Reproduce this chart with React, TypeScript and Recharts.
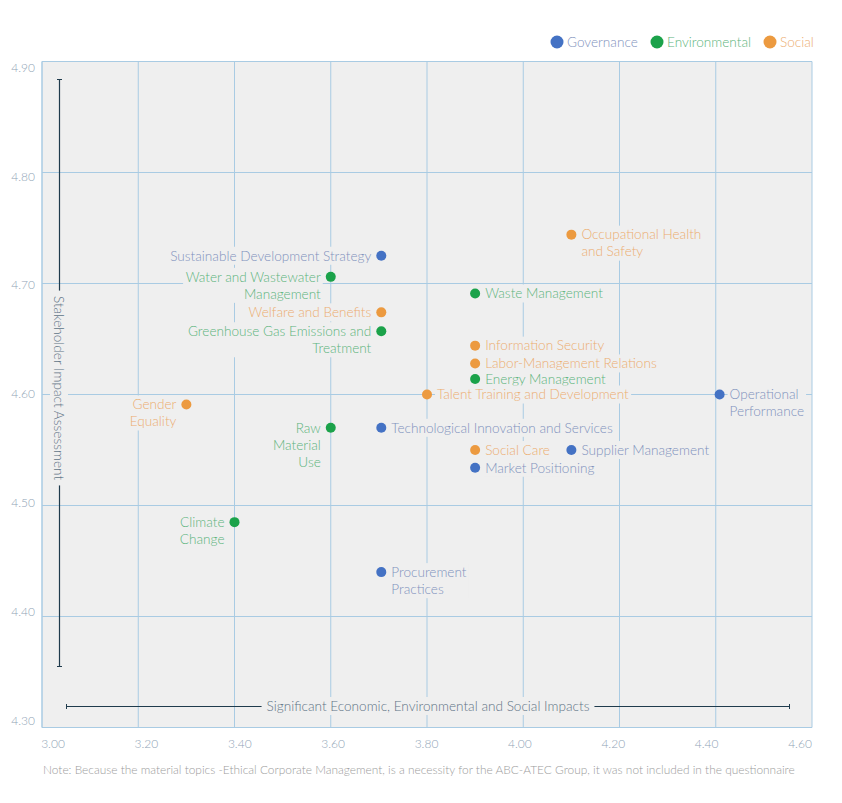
import React from "react";
import { ScatterChart, Scatter, XAxis, YAxis, CartesianGrid } from "recharts";

// Material topics
const governance = [
  { name: "Sustainable Development Strategy", x: 3.705, y: 4.725 },
  { name: "Technological Innovation and Services", x: 3.705, y: 4.57 },
  { name: "Operational Performance", x: 4.408, y: 4.6 },
  { name: "Supplier Management", x: 4.1, y: 4.55 },
  { name: "Market Positioning", x: 3.9, y: 4.534 },
  { name: "Procurement Practices", x: 3.705, y: 4.44 },
];

const environmental = [
  { name: "Water and Wastewater Management", x: 3.6, y: 4.706 },
  { name: "Greenhouse Gas Emissions and Treatment", x: 3.705, y: 4.657 },
  { name: "Waste Management", x: 3.9, y: 4.691 },
  { name: "Energy Management", x: 3.9, y: 4.614 },
  { name: "Raw Material Use", x: 3.6, y: 4.57 },
  { name: "Climate Change", x: 3.4, y: 4.485 },
];

const social = [
  { name: "Occupational Health and Safety", x: 4.1, y: 4.744 },
  { name: "Welfare and Benefits", x: 3.705, y: 4.674 },
  { name: "Information Security", x: 3.9, y: 4.644 },
  { name: "Labor-Management Relations", x: 3.9, y: 4.628 },
  { name: "Talent Training and Development", x: 3.8, y: 4.6 },
  { name: "Gender Equality", x: 3.3, y: 4.591 },
  { name: "Social Care", x: 3.9, y: 4.55 },
];

const xTicks = [3.0, 3.2, 3.4, 3.6, 3.8, 4.0, 4.2, 4.4, 4.6];
const yTicks = [4.3, 4.4, 4.5, 4.6, 4.7, 4.8, 4.9];

const xTitle = "Significant Economic, Environmental and Social Impacts";
const yTitle = "Stakeholder Impact Assessment";
const note =
  "Note: Because the material topics -Ethical Corporate Management, is a necessity for the ABC-ATEC Group, it was not included in the questionnaire";

// where each label sits and how it wraps
const labelLayout: Record<string, { side: "left" | "right"; lines: string[] }> = {
  "Sustainable Development Strategy": { side: "left", lines: ["Sustainable Development Strategy"] },
  "Water and Wastewater Management": { side: "left", lines: ["Water and Wastewater", "Management"] },
  "Welfare and Benefits": { side: "left", lines: ["Welfare and Benefits"] },
  "Greenhouse Gas Emissions and Treatment": { side: "left", lines: ["Greenhouse Gas Emissions and", "Treatment"] },
  "Gender Equality": { side: "left", lines: ["Gender", "Equality"] },
  "Raw Material Use": { side: "left", lines: ["Raw", "Material", "Use"] },
  "Climate Change": { side: "left", lines: ["Climate", "Change"] },
  "Occupational Health and Safety": { side: "right", lines: ["Occupational Health", "and Safety"] },
  "Operational Performance": { side: "right", lines: ["Operational", "Performance"] },
  "Procurement Practices": { side: "right", lines: ["Procurement", "Practices"] },
};

const FONT = "Lato, 'Noto Sans', sans-serif";
const FS = 13.6;
const PLOT_BG = "#efefef";
const GRID = "#a9cbe3";
const DIM = "#1f3b4d";

const COLORS = {
  gov: { dot: "#4472c4", text: "#7f92bd" },
  env: { dot: "#1ba24a", text: "#5cb47c" },
  soc: { dot: "#ec9a40", text: "#ecad70" },
};

let ctx: CanvasRenderingContext2D | null = null;
const measure = (s: string, size = FS) => {
  if (!ctx) ctx = document.createElement("canvas").getContext("2d");
  if (!ctx) return s.length * 6.6;
  ctx.font = `300 ${size}px Lato`;
  return ctx.measureText(s).width;
};

const makeShape = (c: { dot: string; text: string }) => (props: any) => {
  const { cx, cy, payload } = props;
  const lay = labelLayout[payload.name] || { side: "right", lines: [payload.name] };
  const lh = 17;
  const w = Math.max(...lay.lines.map((l) => measure(l))) + 4;
  const left = lay.side === "left";
  const tx = left ? cx - 10 : cx + 10;
  const bx = left ? tx - w + 2 : tx - 2;
  return (
    <g>
      <rect x={bx} y={cy - 9} width={w} height={(lay.lines.length - 1) * lh + 18} fill={PLOT_BG} />
      {lay.lines.map((l, i) => (
        <text
          key={i}
          x={tx}
          y={cy + i * lh}
          dy="0.35em"
          textAnchor={left ? "end" : "start"}
          fontSize={FS}
          fontFamily={FONT}
          fontWeight={300}
          fill={c.text}
        >
          {l}
        </text>
      ))}
      <circle cx={cx} cy={cy} r={5} fill={c.dot} />
    </g>
  );
};

const XTick = ({ x, y, payload }: any) => {
  const v = payload.value as number;
  const dx = 11 - ((v - 3) / 1.6) * 23;
  return (
    <text x={x + dx} y={y + 12} textAnchor="middle" fontSize={12} fontFamily={FONT} fontWeight={300} fill="#8fa4b6">
      {v.toFixed(2)}
    </text>
  );
};

const YTick = ({ y, payload }: any) => {
  const v = payload.value as number;
  const dy = 6 - ((4.9 - v) / 0.6) * 13;
  return (
    <text x={35} y={y + dy} dy="0.35em" textAnchor="end" fontSize={12} fontFamily={FONT} fontWeight={300} fill="#8fa4b6">
      {v.toFixed(2)}
    </text>
  );
};

const legendItems = [
  { label: "Governance", c: COLORS.gov },
  { label: "Environmental", c: COLORS.env },
  { label: "Social", c: COLORS.soc },
];

export default function App() {
  const xtW = measure(xTitle) + 10;
  const ytW = measure(yTitle) + 10;
  return (
    <div style={{ position: "absolute", left: 0, top: 0, width: 842, height: 803, background: "#fff", fontFamily: FONT }}>
      <ScatterChart width={842} height={803} margin={{ top: 61.5, right: 30, bottom: 45.5, left: 0 }}>
        <CartesianGrid stroke={GRID} fill={PLOT_BG} strokeWidth={1} />
        <XAxis
          type="number"
          dataKey="x"
          domain={[3.0, 4.6]}
          ticks={xTicks}
          tick={<XTick />}
          tickLine={false}
          axisLine={{ stroke: GRID }}
          height={30}
          interval={0}
        />
        <YAxis
          type="number"
          dataKey="y"
          domain={[4.3, 4.9]}
          ticks={yTicks}
          tick={<YTick />}
          tickLine={false}
          axisLine={{ stroke: GRID }}
          width={42}
          interval={0}
        />
        <Scatter name="Governance" data={governance} shape={makeShape(COLORS.gov)} isAnimationActive={false} />
        <Scatter name="Environmental" data={environmental} shape={makeShape(COLORS.env)} isAnimationActive={false} />
        <Scatter name="Social" data={social} shape={makeShape(COLORS.soc)} isAnimationActive={false} />
      </ScatterChart>

      {/* axis titles with dimension lines */}
      <svg width={842} height={803} style={{ position: "absolute", left: 0, top: 0, pointerEvents: "none" }}>
        <line x1={66} y1={706.5} x2={790} y2={706.5} stroke={DIM} strokeWidth={1.2} />
        <line x1={66.5} y1={704} x2={66.5} y2={709} stroke={DIM} />
        <line x1={789.5} y1={704} x2={789.5} y2={709} stroke={DIM} />
        <rect x={428 - xtW / 2} y={697} width={xtW} height={18} fill={PLOT_BG} />
        <text x={428} y={706} dy="0.35em" textAnchor="middle" fontSize={FS} fontFamily={FONT} fontWeight={300} fill="#5f7486">
          {xTitle}
        </text>

        <line x1={59.5} y1={79} x2={59.5} y2={667} stroke={DIM} strokeWidth={1.2} />
        <line x1={57} y1={79.5} x2={62} y2={79.5} stroke={DIM} />
        <line x1={57} y1={666.5} x2={62} y2={666.5} stroke={DIM} />
        <g transform="translate(59 388) rotate(90)">
          <rect x={-ytW / 2} y={-9} width={ytW} height={18} fill={PLOT_BG} />
          <text x={0} y={0} dy="0.35em" textAnchor="middle" fontSize={FS} fontFamily={FONT} fontWeight={300} fill="#5f7486">
            {yTitle}
          </text>
        </g>

        {/* legend */}
        {legendItems.map((it, i) => {
          const xs = [557, 657, 770][i];
          return (
            <g key={it.label}>
              <circle cx={xs} cy={42} r={6.5} fill={it.c.dot} />
              <text x={xs + 10} y={42} dy="0.35em" fontSize={FS} fontFamily={FONT} fontWeight={300} fill={it.c.text}>
                {it.label}
              </text>
            </g>
          );
        })}

        <text x={43} y={770} dy="0.35em" fontSize={11.9} fontFamily={FONT} fontWeight={300} fill="#9c9c9c">
          {note}
        </text>
      </svg>
    </div>
  );
}
